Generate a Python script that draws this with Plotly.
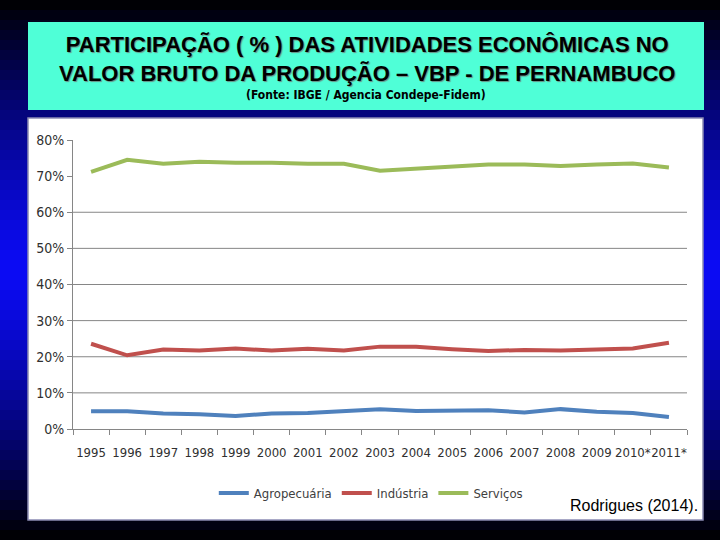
import plotly.graph_objects as go

# dados (% do VBP)
anos = ['1995', '1996', '1997', '1998', '1999', '2000', '2001', '2002', '2003',
        '2004', '2005', '2006', '2007', '2008', '2009', '2010*', '2011*']
agropecuaria = [4.9, 4.9, 4.3, 4.1, 3.6, 4.3, 4.4, 4.9, 5.5,
                5.0, 5.0, 5.2, 4.6, 5.5, 4.8, 4.4, 3.3]
industria = [23.6, 20.4, 22.0, 21.7, 22.3, 21.7, 22.2, 21.7, 22.8,
             22.8, 22.1, 21.6, 21.9, 21.7, 22.0, 22.3, 23.9]
servicos = [71.2, 74.5, 73.4, 74.0, 73.7, 73.7, 73.4, 73.4, 71.5,
            72.0, 72.7, 73.2, 73.2, 72.8, 73.2, 73.5, 72.4]

y_ticks = [0, 10, 20, 30, 40, 50, 60, 70, 80]
grid_vals = [10, 20, 30, 40, 50, 60]

series = [('Agropecuária', agropecuaria, '#4F81BD'),
          ('Indústria', industria, '#C0504D'),
          ('Serviços', servicos, '#9BBB59')]

narrow = 'DejaVu Sans Condensed, Liberation Sans Narrow, Arial Narrow, sans-serif'

fig = go.Figure()
for nome, vals, cor in series:
    fig.add_trace(go.Scatter(x=anos, y=vals, name=nome, mode='lines',
                             line=dict(color=cor, width=4)))

shapes = []
# fundo azul em degrade (escuro em cima e embaixo)
n_bands = 54
for i in range(n_bands):
    t = (i + 0.5) / n_bands
    d = abs(t - 0.5) / 0.5
    b = int(max(0, 245 * (1 - d ** 1.3)))
    r = int(max(0, 12 * (1 - d)))
    shapes.append(dict(type='rect', xref='paper', yref='paper',
                       x0=0, x1=1, y0=1 - (i + 1) / n_bands - 0.001, y1=1 - i / n_bands,
                       fillcolor='rgb(%d,%d,%d)' % (r, r, b), line=dict(width=0),
                       layer='below'))
# caixa do titulo
shapes.append(dict(type='rect', xref='paper', yref='paper',
                   x0=28 / 720, x1=704 / 720, y0=1 - 110 / 540, y1=1 - 22 / 540,
                   fillcolor='#4FFFD7', line=dict(width=0), layer='below'))
# caixa branca do grafico
shapes.append(dict(type='rect', xref='paper', yref='paper',
                   x0=28 / 720, x1=703 / 720, y0=1 - 520 / 540, y1=1 - 118 / 540,
                   fillcolor='white', line=dict(color='#8C8CB4', width=1.5),
                   layer='below'))
for g in grid_vals:
    shapes.append(dict(type='line', xref='x domain', yref='y',
                       x0=0, x1=1, y0=g, y1=g,
                       line=dict(color='#868686', width=1), layer='below'))

fig.update_layout(
    width=720, height=540,
    margin=dict(l=0, r=0, t=0, b=0, autoexpand=False),
    paper_bgcolor='#000010',
    plot_bgcolor='rgba(0,0,0,0)',
    shapes=shapes,
    showlegend=True,
    legend=dict(orientation='h', x=0.515, xanchor='center', y=1 - 493 / 540,
                yanchor='middle', font=dict(family=narrow, size=13, color='#404040'),
                bgcolor='rgba(0,0,0,0)', tracegroupgap=0),
    xaxis=dict(domain=[73 / 720, 687 / 720], type='category', automargin=False,
               range=[-0.5, len(anos) - 0.5],
               showgrid=False, showline=True, linecolor='#868686', linewidth=1,
               ticks='outside', tickson='boundaries', ticklen=5, tickcolor='#868686',
               tickfont=dict(family=narrow, size=13, color='#303030'),
               ticklabelstandoff=11, tickangle=0, fixedrange=True),
    yaxis=dict(domain=[1 - 429 / 540, 1 - 140 / 540], range=[0, 80], automargin=False,
               tickvals=y_ticks, ticktext=['%d%%' % v for v in y_ticks],
               showgrid=False, zeroline=False,
               showline=True, linecolor='#868686', linewidth=1,
               ticks='outside', ticklen=5, tickcolor='#868686',
               tickfont=dict(family=narrow, size=14, color='#303030')),
    annotations=[
        dict(text='PARTICIPAÇÃO ( % ) DAS ATIVIDADES ECONÔMICAS NO<br>'
                  'VALOR BRUTO DA PRODUÇÃO – VBP - DE PERNAMBUCO',
             xref='paper', yref='paper', x=367 / 720, y=1 - 59 / 540,
             xanchor='center', yanchor='middle',
             showarrow=False, align='center',
             font=dict(family='Liberation Sans, Arial, sans-serif', size=22,
                       color='black', weight='bold', shadow='1px 1px 1px #6a8f86')),
        dict(text='(Fonte: IBGE / Agencia Condepe-Fidem)',
             xref='paper', yref='paper', x=366 / 720, y=1 - 95 / 540,
             xanchor='center', yanchor='middle', showarrow=False,
             font=dict(family=narrow, size=12, color='black', weight='bold')),
        dict(text='Rodrigues (2014).', xref='paper', yref='paper',
             x=700 / 720, y=1 - 505 / 540, xanchor='right', yanchor='middle',
             showarrow=False,
             font=dict(family='Liberation Sans, Arial, sans-serif', size=16,
                       color='black')),
    ],
)

# tira a margem padrao do body para a figura ocupar a janela toda
fig.write_html("out.html", config={'displayModeBar': False},
               post_script="document.body.style.margin='0';")
